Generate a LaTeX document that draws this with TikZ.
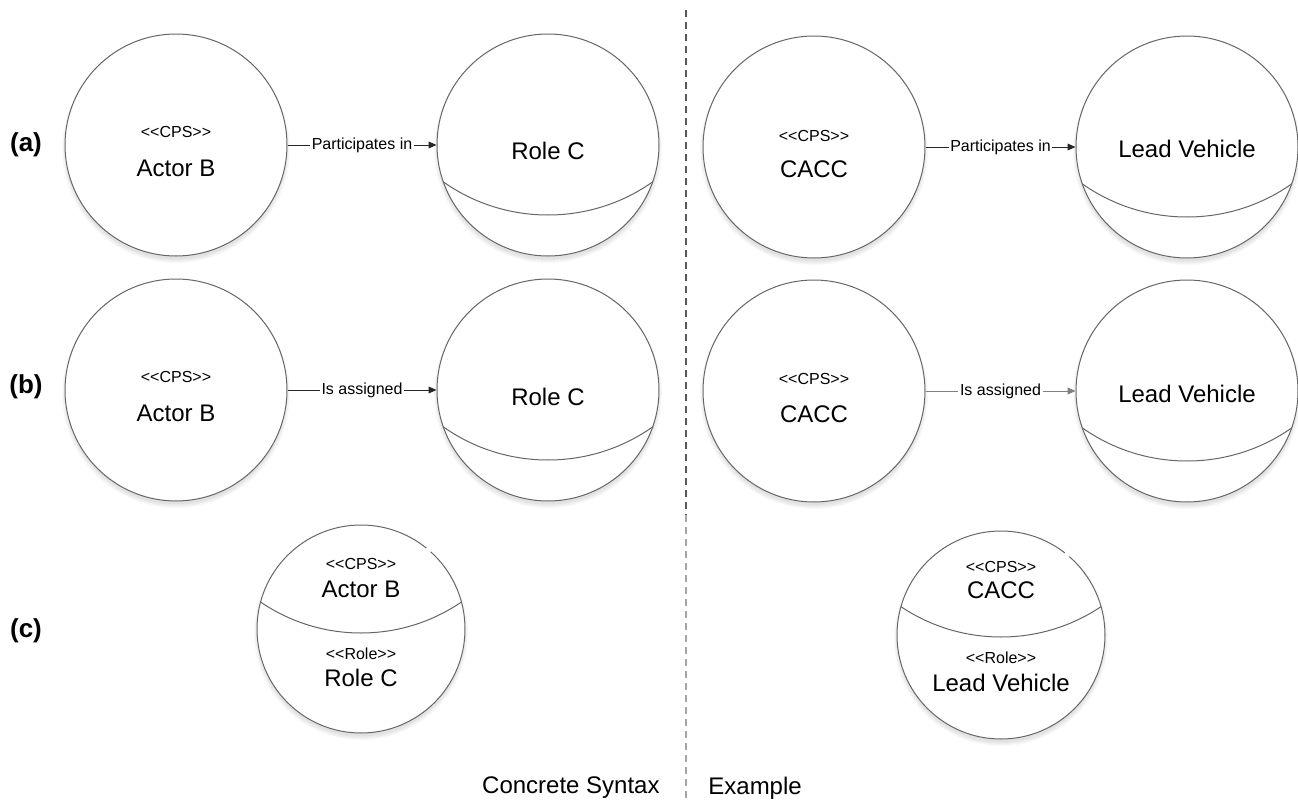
\documentclass[tikz,border=0pt]{standalone}
\usepackage{fontspec}
\setmainfont{Liberation Sans}
\usetikzlibrary{arrows.meta,calc,backgrounds}

% stereotype brackets, kept apart so no guillemet ligature forms
\newcommand\stype[1]{<\kern0pt<#1>\kern0pt>}

\begin{document}
\begin{tikzpicture}[x=0.5pt,y=-0.5pt,
  blob/.style={circle, draw=black!60, line width=0.5pt, fill=white, minimum size=111pt, inner sep=0pt},
  smallblob/.style={blob, minimum size=104pt},
  stereo/.style={font=\fontsize{8}{9}\selectfont, inner sep=0pt},
  bigtext/.style={font=\fontsize{12}{14}\selectfont, inner sep=0pt},
  relarrow/.style={draw=black!85, line width=0.5pt, -{Triangle[length=4pt,width=3.4pt]}},
  rellabel/.style={fill=white, inner sep=0.8pt, font=\fontsize{8}{9}\selectfont, text=black},
  rowlabel/.style={font=\bfseries\fontsize{13}{15}\selectfont, inner sep=0pt},
  caption/.style={font=\fontsize{12}{14}\selectfont, inner sep=0pt},
  partition/.style={line width=0.5pt, draw=black!60},
  shade/.style={fill=black, opacity=0.025},
  outlinegap/.style={draw=white, line width=1.2pt},
  darkdash/.style={draw=black!65, line width=0.75pt, dash pattern=on 3.5pt off 2.5pt},
  lightdash/.style={draw=black!35, line width=0.75pt, dash pattern=on 3.5pt off 2.5pt},
]
\useasboundingbox (0,0) rectangle (1298,803);

% ---- divider between the two halves ----
\coordinate (dtop) at (686,10);
\coordinate (dmid) at (686,515);
\coordinate (dbot) at (686,803);
\draw[darkdash] (dtop) -- (dmid);
\draw[lightdash] (dmid) -- (dbot);

% ---- row (a) ----
\node[blob] (ab1) at (176,145) {};
\node[blob] (rc1) at (548,145) {};
\node[blob] (ca1) at (814,147) {};
\node[blob] (lv1) at (1187,147) {};

% ---- row (b) ----
\node[blob] (ab2) at (176,390) {};
\node[blob] (rc2) at (548,390) {};
\node[blob] (ca2) at (814,391) {};
\node[blob] (lv2) at (1187,391) {};

% ---- row (c) ----
\node[smallblob] (cl) at (361,629) {};
\node[smallblob] (cr) at (1001,635) {};

% soft shadows under every circle
\begin{scope}[on background layer]
  \foreach \n/\r in {ab1/111,rc1/111,ca1/111,lv1/111,ab2/111,rc2/111,ca2/111,lv2/111,cl/104,cr/104}{
    \foreach \k in {1,...,5}{
      \fill[shade] ($(\n.center)+(0,4)$) circle[radius=\r-2+\k];
    }
  }
\end{scope}

% role compartments in the right-hand circles
\foreach \n in {rc1,rc2,lv1,lv2}{
  \begin{scope}
    \clip (\n.center) circle[radius=111];
    \draw[partition] ($(\n.center)+(0,-112)$) circle[radius=182];
  \end{scope}
}
\begin{scope}
  \clip (cl.center) circle[radius=104];
  \draw[partition] ($(cl.center)+(0,-174)$) circle[radius=178];
\end{scope}
\begin{scope}
  \clip (cr.center) circle[radius=104];
  \draw[partition] ($(cr.center)+(0,-178)$) circle[radius=180];
\end{scope}

% small breaks in the outlines of the combined circles
\draw[outlinegap] (cl.48.5) -- (cl.51.5);
\draw[outlinegap] (cr.49.5) -- (cr.52.5);

% ---- texts of rows (a) and (b) ----
\node[stereo]  (ab1s) at ($(ab1.center)+(0,-13)$) {\stype{CPS}};
\node[bigtext] (ab1t) at ($(ab1.center)+(0,23)$) {Actor B};
\node[bigtext] (rc1t) at ($(rc1.center)+(0,6)$) {Role C};
\node[stereo]  (ca1s) at ($(ca1.center)+(0,-11)$) {\stype{CPS}};
\node[bigtext] (ca1t) at ($(ca1.center)+(0,22)$) {CACC};
\node[bigtext] (lv1t) at ($(lv1.center)+(0,2)$) {Lead Vehicle};

\node[stereo]  (ab2s) at ($(ab2.center)+(0,-13)$) {\stype{CPS}};
\node[bigtext] (ab2t) at ($(ab2.center)+(0,23)$) {Actor B};
\node[bigtext] (rc2t) at ($(rc2.center)+(0,7)$) {Role C};
\node[stereo]  (ca2s) at ($(ca2.center)+(0,-12)$) {\stype{CPS}};
\node[bigtext] (ca2t) at ($(ca2.center)+(0,23)$) {CACC};
\node[bigtext] (lv2t) at ($(lv2.center)+(0,3)$) {Lead Vehicle};

% ---- texts of row (c) ----
\node[stereo]  (cls) at ($(cl.center)+(0,-65)$) {\stype{CPS}};
\node[bigtext] (clt) at ($(cl.center)+(0,-40)$) {Actor B};
\node[stereo]  (clr) at ($(cl.center)+(0,25)$) {\stype{Role}};
\node[bigtext] (clq) at ($(cl.center)+(0,49)$) {Role C};

\node[stereo]  (crs) at ($(cr.center)+(0,-68)$) {\stype{CPS}};
\node[bigtext] (crt) at ($(cr.center)+(0,-45)$) {CACC};
\node[stereo]  (crr) at ($(cr.center)+(0,23)$) {\stype{Role}};
\node[bigtext] (crq) at ($(cr.center)+(0,48)$) {Lead Vehicle};

% ---- relations ----
\draw[relarrow] (ab1.east) -- node[rellabel] (r1) {Participates in} (rc1.west);
\draw[relarrow] (ca1.east) -- node[rellabel] (r2) {Participates in} (lv1.west);
\draw[relarrow] (ab2.east) -- node[rellabel] (r3) {Is assigned} (rc2.west);
\draw[relarrow, draw=black!50] (ca2.east) -- node[rellabel] (r4) {Is assigned} (lv2.west);

% ---- row labels ----
\node[rowlabel] (la) at (26,145) {(a)};
\node[rowlabel] (lb) at (26,387) {(b)};
\node[rowlabel] (lc) at (26,631) {(c)};

% ---- captions ----
\node[caption, anchor=east] (cs) at (660,788) {Concrete Syntax};
\node[caption, anchor=west] (ex) at (708,788) {Example};
\end{tikzpicture}
\end{document}
